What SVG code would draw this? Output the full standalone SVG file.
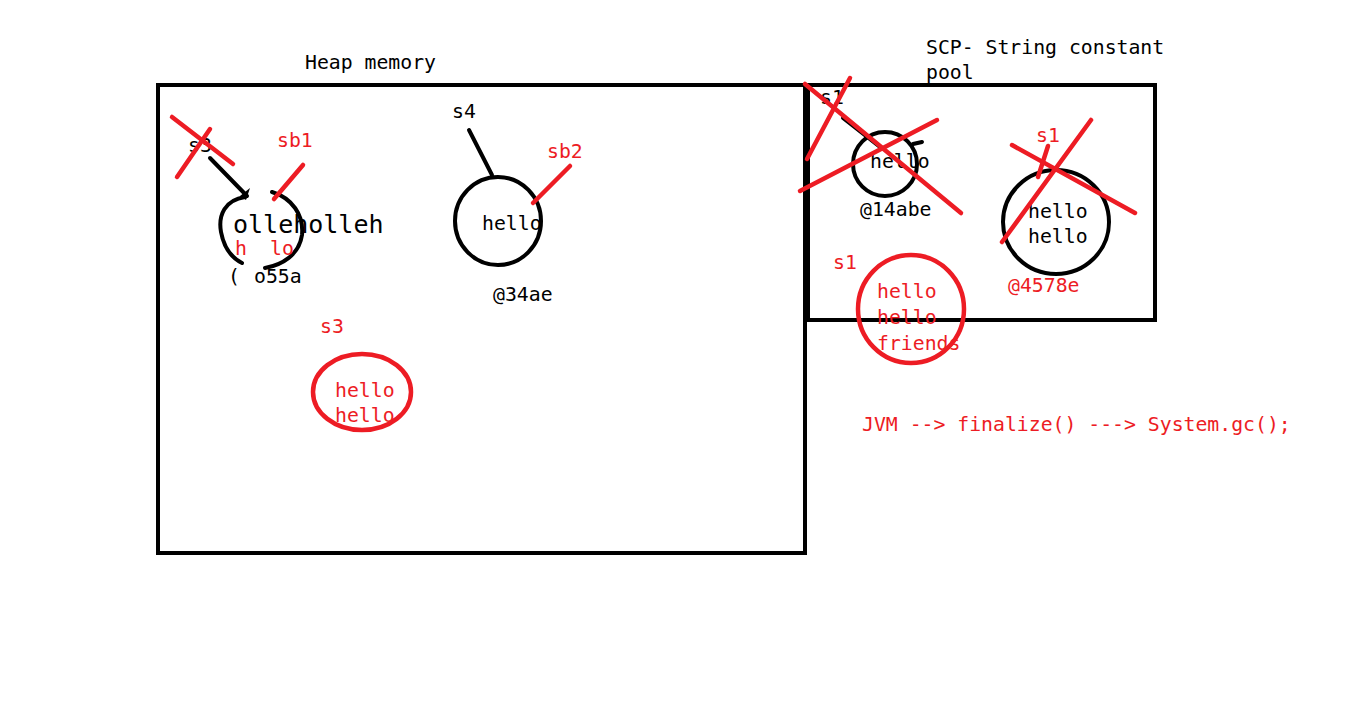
<svg xmlns="http://www.w3.org/2000/svg" width="1355" height="716" viewBox="0 0 1355 716">
<style>
.t{font-family:"DejaVu Sans Mono","Liberation Mono",monospace;font-size:19.8px;fill:#000}
.r{fill:#ed1c24}
.bk{fill:none;stroke:#000;stroke-width:4;stroke-linecap:round}
.rd{fill:none;stroke:#ed1c24;stroke-width:4.5;stroke-linecap:round}
</style>
<rect width="1355" height="716" fill="#fff"/>
<g id="heap">
<rect x="158" y="85" width="647" height="468" fill="none" stroke="#000" stroke-width="4"/>
<text class="t" x="305" y="69">Heap memory</text>
</g>
<g id="scp">
<rect x="807" y="85" width="348" height="235" fill="none" stroke="#000" stroke-width="4"/>
<line x1="807" y1="84" x2="807" y2="322" stroke="#000" stroke-width="6"/>
<text class="t" x="926" y="54">SCP- String constant</text>
<text class="t" x="926" y="79">pool</text>
</g>
<g id="node-olleh">
<path class="bk" d="M245 197 C225 200 218 215 221 232 C224 248 232 258 242 263"/>
<path class="bk" d="M272 192 C292 198 304 215 302 235 C299 255 282 265 265 268"/>
<path d="M240 196 L250 188 L246 200 Z" fill="#000"/>
<text class="t" x="233" y="233" style="font-size:25px">olleholleh</text>
<text class="t r" x="235" y="255">h</text>
<text class="t r" x="270" y="255">lo</text>
<text class="t" x="228" y="283">(</text>
<text class="t" x="254" y="283">o55a</text>
</g>
<g id="node-s4">
<ellipse class="bk" cx="498" cy="221" rx="43" ry="44"/>
<text class="t" x="482" y="230">hello</text>
<text class="t" x="493" y="301">@34ae</text>
</g>
<g id="node-s3">
<ellipse class="rd" cx="362" cy="392" rx="49" ry="38"/>
<text class="t r" x="335" y="397">hello</text>
<text class="t r" x="335" y="422">hello</text>
<text class="t r" x="320" y="333">s3</text>
</g>
<g id="node-scp1">
<circle class="bk" cx="885" cy="164" r="32"/>
<text class="t" x="870" y="168">hello</text>
<text class="t" x="860" y="216">@14abe</text>
<path class="bk" d="M913 144 L922 142" stroke-width="3"/>
</g>
<g id="node-scp2">
<ellipse class="bk" cx="1056" cy="222" rx="53" ry="52"/>
<text class="t" x="1028" y="218">hello</text>
<text class="t" x="1028" y="243">hello</text>
<text class="t r" x="1008" y="292">@4578e</text>
<text class="t r" x="1036" y="142">s1</text>
</g>
<g id="node-scp3">
<ellipse class="rd" cx="911" cy="309" rx="53" ry="54"/>
<text class="t r" x="877" y="298">hello</text>
<text class="t r" x="877" y="324">hello</text>
<text class="t r" x="877" y="350">friends</text>
<text class="t r" x="833" y="269">s1</text>
</g>
<g id="labels">
<text class="t" x="188" y="152">s3</text>
<text class="t r" x="277" y="147">sb1</text>
<text class="t" x="452" y="118">s4</text>
<text class="t r" x="547" y="158">sb2</text>
<text class="t" x="820" y="104">s1</text>
<text class="t r" x="862" y="431">JVM --&gt; finalize() ---&gt; System.gc();</text>
</g>
<g id="connectors">
<line class="bk" x1="210" y1="158" x2="247" y2="196"/>
<line class="bk" x1="469" y1="130" x2="492" y2="175"/>
<line class="bk" x1="843" y1="118" x2="880" y2="147"/>
<line class="rd" x1="303" y1="165" x2="274" y2="199"/>
<line class="rd" x1="570" y1="166" x2="533" y2="203"/>
</g>
<g id="crossouts">
<line class="rd" x1="172" y1="117" x2="233" y2="164"/>
<line class="rd" x1="210" y1="129" x2="177" y2="177"/>
<line class="rd" x1="805" y1="84" x2="961" y2="213"/>
<line class="rd" x1="850" y1="78" x2="807" y2="159"/>
<line class="rd" x1="937" y1="120" x2="800" y2="191"/>
<line class="rd" x1="1091" y1="120" x2="1002" y2="242"/>
<line class="rd" x1="1012" y1="145" x2="1135" y2="213"/>
<line class="rd" x1="1048" y1="146" x2="1038" y2="177"/>
</g>
</svg>
